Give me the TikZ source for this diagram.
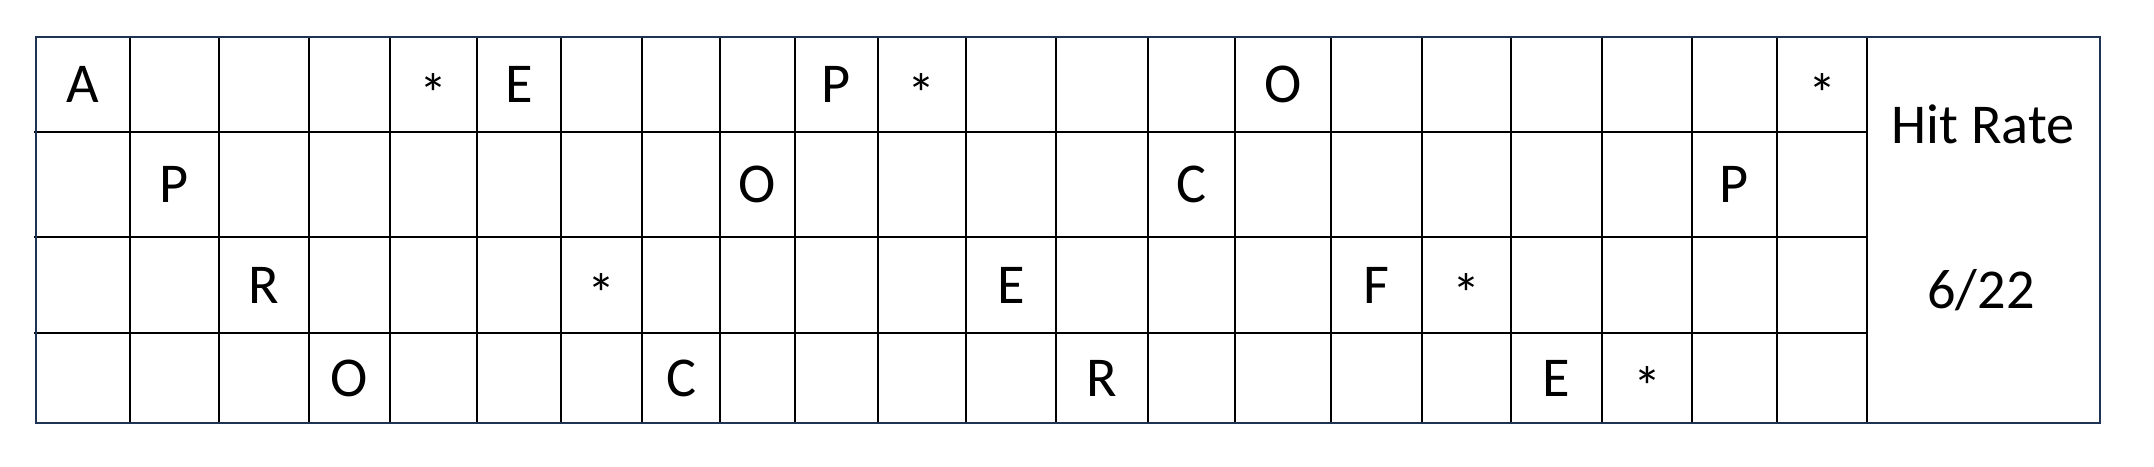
\documentclass[tikz,border=0pt]{standalone}
\usepackage{fontspec}
\setmainfont{Carlito}
\usepackage{xcolor}
\usepackage{tikz}
\definecolor{frameblue}{HTML}{1F3354}

\begin{document}
\begin{tikzpicture}[x=0.01cm,y=-0.01cm,
  gridline/.style={line width=0.78pt,black},
  frameline/.style={line width=0.8pt,frameblue},
  cell/.style={font=\fontsize{16}{19}\selectfont,inner sep=0pt},
  starcell/.style={cell,yshift=-0.09cm}]
\useasboundingbox[fill=white] (0,0) rectangle (2154,467);
% table lines
\foreach \x in {130,219,309,390,477,561,642,720,795,878,966,1056,1148,1235,1331,1422,1511,1602,1692,1777,1867}
  \draw[gridline] (\x,37) -- (\x,423);
\foreach \y in {132,237,333}
  \draw[gridline] (34,\y) -- (1867,\y);
\draw[frameline] (36,37) rectangle (2100,423);
% letters
\foreach \txt/\x/\y [count=\i] in {
  A/83/84.5, E/519/84.5, P/836.5/84.5, O/1283/84.5,
  P/174.5/184.5, O/757.5/184.5, C/1191.5/184.5, P/1734.5/184.5,
  R/264/285, E/1011/285, F/1376.5/285,
  O/349.5/378, C/681/378, R/1102/378, E/1556.5/378}
  \node[cell] (letter\i) at (\x,\y) {\txt};
% misses
\foreach \x/\y [count=\i] in {433.5/84.5, 922/84.5, 1822/84.5, 601.5/285, 1466.5/285, 1647/378}
  \node[starcell] (miss\i) at (\x,\y) {*};
\node[cell,anchor=base] (hitlabel) at (1983,144) {Hit Rate};
\node[cell,anchor=base] (hitvalue) at (1981,308) {6/22};
\end{tikzpicture}
\end{document}
